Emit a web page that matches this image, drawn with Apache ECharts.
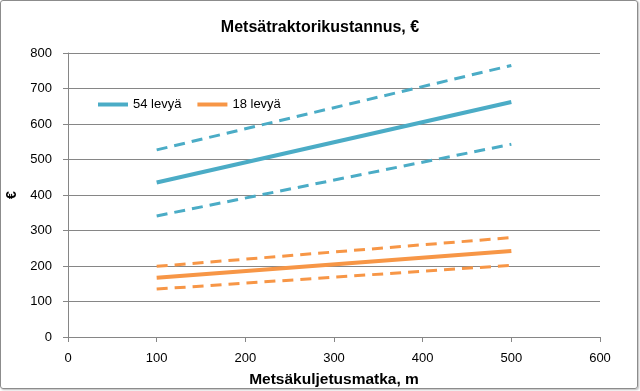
<!DOCTYPE html>
<html><head><meta charset="utf-8">
<script src="https://cdn.jsdelivr.net/npm/echarts@6/dist/echarts.min.js"></script>
<style>
html,body{margin:0;padding:0;background:#fff;}
#frame{position:absolute;left:0;top:0;width:636px;height:387px;border:1px solid #8c8c8c;border-radius:3px;box-shadow:1px 1px 2px #bbb;}
#c{position:absolute;left:0;top:0;width:640px;height:391px;}
</style></head>
<body>
<div id="frame"></div>
<div id="c"></div>
<script>
const distances = [100, 500];
const cost54 = [435, 662];
const cost54Upper = [527, 765];
const cost54Lower = [341, 543];
const cost18 = [167, 242];
const cost18Upper = [199, 280];
const cost18Lower = [135, 202];
const blue = '#4BACC6';
const orange = '#F79646';
const font = 'Liberation Sans, Arial, sans-serif';

function pts(ys){ return distances.map((x,i)=>[x, ys[i]]); }
function line(name, ys, color, dashed){
  return {
    name: name, type: 'line', data: pts(ys), symbol: 'none', silent: true,
    lineStyle: dashed ? {color: color, width: 3, type: [11, 7]} : {color: color, width: 4},
    itemStyle: {color: color}, z: dashed ? 2 : 3
  };
}
const chart = echarts.init(document.getElementById('c'));
chart.setOption({
  animation: false,
  title: {text: 'Metsätraktorikustannus, €', left: 'center', top: 15,
    textStyle: {fontFamily: font, fontSize: 16, fontWeight: 'bold', color: '#000'}},
  legend: {data: ['54 levyä', '18 levyä'], left: 93, top: 93, itemWidth: 30, itemHeight: 4, itemGap: 16,
    icon: 'rect', textStyle: {fontFamily: font, fontSize: 13, color: '#000'}},
  grid: {left: 68, right: 40, top: 53, bottom: 54, outerBoundsMode: 'none'},
  xAxis: {type: 'value', min: 0, max: 600, interval: 100,
    name: 'Metsäkuljetusmatka, m', nameLocation: 'middle', nameGap: 35,
    nameTextStyle: {fontFamily: font, fontSize: 15.5, fontWeight: 'bold', color: '#000'},
    axisLine: {show: true, lineStyle: {color: '#868686'}},
    axisTick: {show: true, length: 5, lineStyle: {color: '#868686'}},
    axisLabel: {fontFamily: font, fontSize: 13, color: '#000', margin: 15},
    splitLine: {show: false}},
  yAxis: {type: 'value', min: 0, max: 800, interval: 100,
    name: '€', nameLocation: 'middle', nameGap: 49, nameRotate: 90,
    nameTextStyle: {fontFamily: font, fontSize: 14, fontWeight: 'bold', color: '#000'},
    axisLine: {show: true, lineStyle: {color: '#868686'}},
    axisTick: {show: true, length: 5, lineStyle: {color: '#868686'}},
    axisLabel: {fontFamily: font, fontSize: 13, color: '#000', margin: 16},
    splitLine: {show: true, lineStyle: {color: '#868686', width: 1}}},
  series: [
    line('54 levyä', cost54, blue, false),
    line('54 levyä yläraja', cost54Upper, blue, true),
    line('54 levyä alaraja', cost54Lower, blue, true),
    line('18 levyä', cost18, orange, false),
    line('18 levyä yläraja', cost18Upper, orange, true),
    line('18 levyä alaraja', cost18Lower, orange, true)
  ]
});
</script>
</body></html>
